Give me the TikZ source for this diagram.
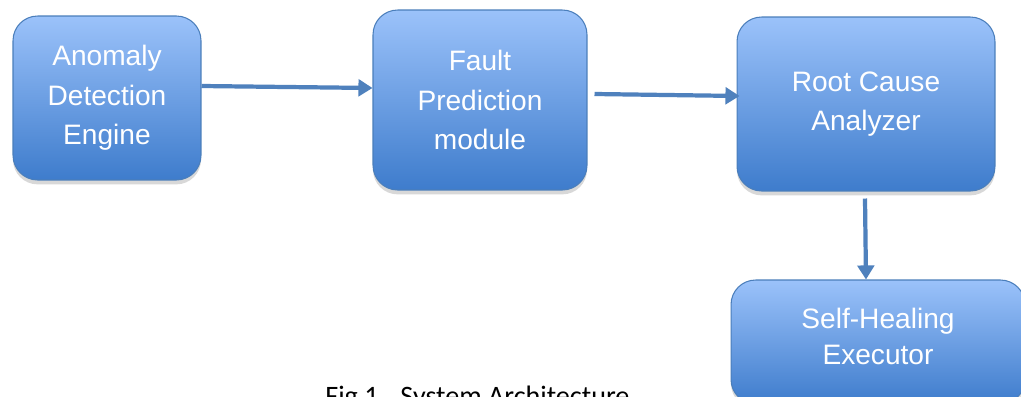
\documentclass[tikz,border=0pt]{standalone}
\usepackage{fontspec}
\setmainfont{Liberation Sans}
\newfontfamily\capfont{Carlito}
\usetikzlibrary{shadows,arrows.meta,calc}
\definecolor{boxtop}{RGB}{155,194,250}
\definecolor{boxbot}{RGB}{62,124,204}
\definecolor{boxline}{RGB}{74,126,187}
\definecolor{arrowblue}{RGB}{79,129,189}
\tikzset{
  block/.style={rectangle, rounded corners=14pt, draw=boxline, line width=0.6pt,
    top color=boxtop, bottom color=boxbot, text=white, align=center, inner sep=0pt,
    font=\fontsize{16}{22.5}\selectfont,
    drop shadow={opacity=0.3, shadow xshift=0pt, shadow yshift=-2.5pt}},
  flow/.style={draw=arrowblue, line width=2.4pt, -{Triangle[length=8pt,width=9.5pt]}}
}
\begin{document}
\begin{tikzpicture}[x=0.02cm, y=-0.02cm]
  \clip (0,0) rectangle (1021,396);
  \fill[white] (0,0) rectangle (1021,396);
  \node[block, minimum width=3.76cm, minimum height=3.28cm] (anomaly) at (107,98) {Anomaly\\Detection\\Engine};
  \node[block, minimum width=4.28cm, minimum height=3.6cm] (fault) at (480,100) {Fault\\Prediction\\module};
  \node[block, minimum width=5.16cm, minimum height=3.48cm] (root) at (866,104) {Root Cause\\Analyzer};
  \node[block, minimum width=5.88cm, minimum height=2.48cm, text depth=6pt,
    font=\fontsize{16}{20.5}\selectfont] (heal) at (878,342) {Self-Healing\\Executor};
  \node[anchor=base west, font=\capfont\fontsize{16}{19}\selectfont, inner sep=0pt] (caption) at (325,405) {Fig 1.~ System Architecture};
  \begin{scope}[flow]
    \draw ($(anomaly.east)+(0,-12)$) -- ($(fault.west)+(0,-12)$);
    \draw ($(fault.east)+(7,-6)$) -- ($(root.west)+(3,-8)$);
    \draw ($(root.south)+(-1,7)$) -- ($(heal.north)+(-12,0)$);
  \end{scope}
\end{tikzpicture}
\end{document}
